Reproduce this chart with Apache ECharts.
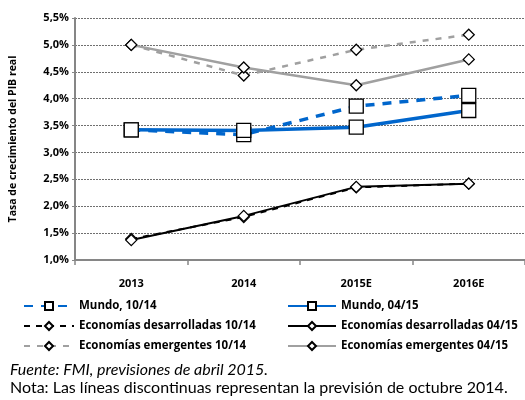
<!DOCTYPE html>
<html>
<head>
<meta charset="utf-8">
<script src="https://cdn.jsdelivr.net/npm/echarts@6/dist/echarts.min.js"></script>
<style>
  html, body { margin: 0; padding: 0; background: #ffffff; }
  #chart { width: 525px; height: 400px; }
</style>
</head>
<body>
<div id="chart"></div>
<script>
const years = ['2013', '2014', '2015E', '2016E'];

const mundoOct = [3.42, 3.33, 3.86, 4.06];
const mundoAbr = [3.42, 3.41, 3.47, 3.78];
const desarrOct = [1.39, 1.80, 2.35, 2.42];
const desarrAbr = [1.37, 1.82, 2.36, 2.42];
const emergOct = [5.0, 4.43, 4.91, 5.19];
const emergAbr = [5.0, 4.58, 4.25, 4.73];

const FONT = '"Open Sans", "Noto Sans", sans-serif';
const NOTE_FONT = 'Lato, "Open Sans", sans-serif';
const BLUE = '#0066cc';
const GREY = '#a0a0a0';

function lineSeries(name, data, color, width, dash, symbol, size) {
  return {
    name: name,
    type: 'line',
    data: data,
    symbol: symbol,
    symbolSize: size,
    showAllSymbol: true,
    lineStyle: { color: color, width: width, type: dash || 'solid' },
    itemStyle: { color: '#ffffff', borderColor: '#000000', borderWidth: 1.3 },
    emphasis: { disabled: true },
    z: dash ? 2 : 3
  };
}

const chart = echarts.init(document.getElementById('chart'));
chart.setOption({
  animation: false,
  textStyle: { fontFamily: FONT },
  grid: { left: 70, right: -1, top: 18, bottom: 140 },
  xAxis: {
    type: 'category',
    data: years,
    boundaryGap: true,
    axisLine: { lineStyle: { color: '#868686', width: 2 } },
    axisTick: { show: true, length: 5, lineStyle: { color: '#868686', width: 1.5 } },
    axisLabel: { color: '#000', fontWeight: 'bold', fontSize: 11, margin: 18, fontFamily: FONT }
  },
  yAxis: {
    type: 'value',
    min: 1,
    max: 5.5,
    interval: 0.5,
    name: 'Tasa de crecimiento del PIB real',
    nameLocation: 'middle',
    nameGap: 56,
    nameTextStyle: { color: '#000', fontWeight: 'bold', fontSize: 10.5, fontFamily: FONT },
    axisLine: { show: true, lineStyle: { color: '#868686', width: 2 } },
    axisTick: { show: true, length: 3, lineStyle: { color: '#868686' } },
    axisLabel: {
      color: '#000', fontWeight: 'bold', fontSize: 11, margin: 6, fontFamily: FONT,
      formatter: v => v.toFixed(1).replace('.', ',') + '%'
    },
    splitLine: { lineStyle: { color: '#6f6f6f', width: 1, type: [2, 1] } }
  },
  legend: [
    {
      data: ['Mundo, 10/14', 'Economías desarrolladas 10/14', 'Economías emergentes 10/14'],
      orient: 'vertical', left: 18, top: 295, itemWidth: 50, itemHeight: 10, itemGap: 8,
      textStyle: { color: '#000', fontWeight: 'bold', fontSize: 11.5, fontFamily: FONT },
      selectedMode: false
    },
    {
      data: ['Mundo, 04/15', 'Economías desarrolladas 04/15', 'Economías emergentes 04/15'],
      orient: 'vertical', left: 282, top: 295, itemWidth: 48, itemHeight: 10, itemGap: 8,
      textStyle: { color: '#000', fontWeight: 'bold', fontSize: 11.5, fontFamily: FONT },
      selectedMode: false
    }
  ],
  graphic: [
    { type: 'text', left: 10, top: 362, style: { text: 'Fuente: FMI, previsiones de abril 2015.', font: 'italic 16px ' + NOTE_FONT, fill: '#000' } },
    { type: 'text', left: 10, top: 380, style: { text: 'Nota: Las líneas discontinuas representan la previsión de octubre 2014.', font: '16px ' + NOTE_FONT, fill: '#000' } }
  ],
  series: [
    lineSeries('Economías emergentes 10/14', emergOct, GREY, 2.5, [6, 7], 'diamond', 11),
    lineSeries('Economías desarrolladas 10/14', desarrOct, '#000000', 2, [6, 6], 'diamond', 11),
    lineSeries('Mundo, 10/14', mundoOct, BLUE, 3.5, [9, 8], 'rect', 14),
    lineSeries('Economías emergentes 04/15', emergAbr, GREY, 2.5, null, 'diamond', 11),
    lineSeries('Economías desarrolladas 04/15', desarrAbr, '#000000', 2, null, 'diamond', 11),
    lineSeries('Mundo, 04/15', mundoAbr, BLUE, 3.5, null, 'rect', 14)
  ]
});
</script>
</body>
</html>
